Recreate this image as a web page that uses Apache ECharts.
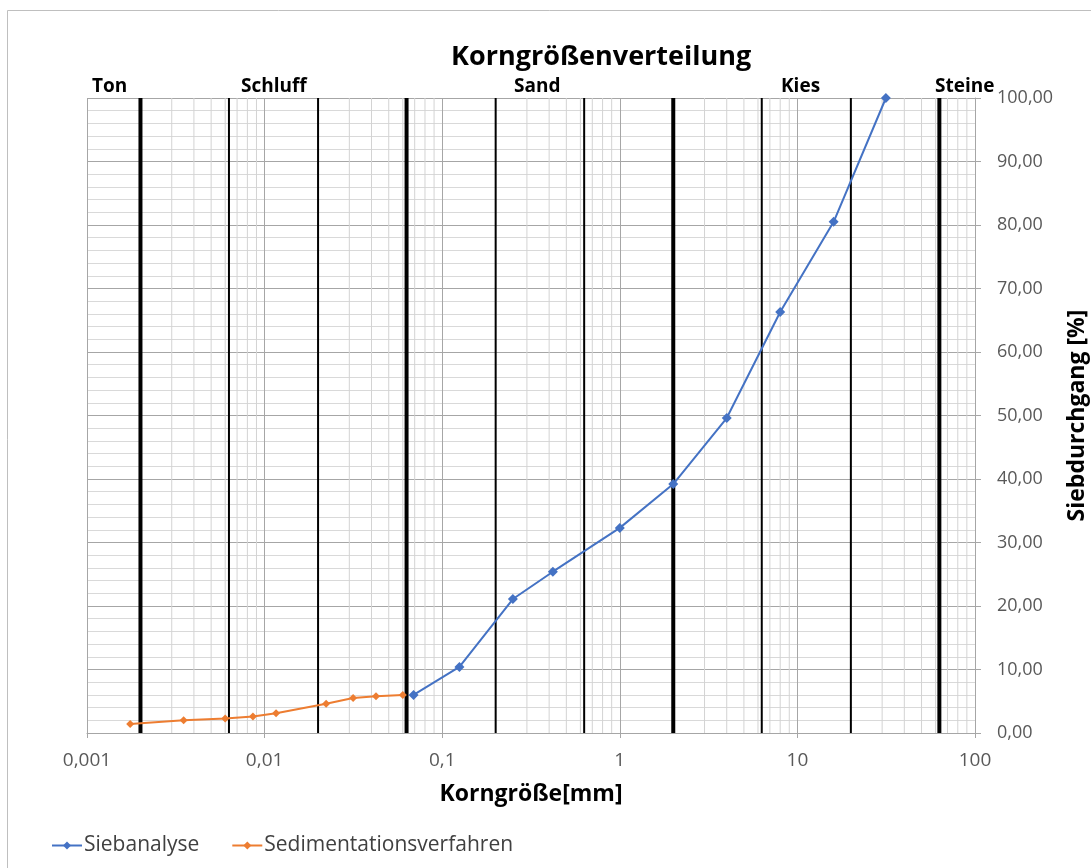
<!DOCTYPE html>
<html>
<head>
<meta charset="utf-8">
<script src="https://cdn.jsdelivr.net/npm/echarts@6/dist/echarts.min.js"></script>
<style>
    html, body { margin: 0; padding: 0; background: #fff; }
    #main { width: 1091px; height: 868px; }
</style>
</head>
<body>
<div id="main"></div>
<script>
// Siebanalyse: Korngröße [mm] / Durchgang [%]
var siebD = [0.069, 0.125, 0.25, 0.42, 1, 2, 4, 8, 16, 31.5];
var siebP = [6.0, 10.4, 21.1, 25.4, 32.3, 39.2, 49.6, 66.3, 80.5, 100.0];

// Sedimentationsverfahren
var sedD = [0.00175, 0.0035, 0.006, 0.0086, 0.0116, 0.0222, 0.0315, 0.0424, 0.060];
var sedP = [1.4, 2.0, 2.3, 2.6, 3.1, 4.6, 5.5, 5.8, 6.0];

// Bodenarten-Grenzen (DIN)
var grenzenDick = [0.002, 0.063, 2, 63];
var grenzenDuenn = [0.0063, 0.02, 0.2, 0.63, 6.3, 20];
var bodenarten = ['Ton', 'Schluff', 'Sand', 'Kies', 'Steine'];
var bodenartenX = [92, 241, 514, 781, 935];

var dekaden = [0.001, 0.01, 0.1, 1, 10];

function paare(xs, ys) {
    var out = [];
    for (var i = 0; i < xs.length; i++) out.push([xs[i], ys[i]]);
    return out;
}

// Nebengitterlinien 2..9 in jeder Dekade
var nebenLinien = [];
dekaden.forEach(function (d) {
    for (var k = 2; k <= 9; k++) {
        nebenLinien.push([+(d * k).toPrecision(6), 1]);
    }
});

var grenzLinien = grenzenDuenn.map(function (v) { return [v, 2]; })
    .concat(grenzenDick.map(function (v) { return [v, 4]; }));

// senkrechte Linie über die ganze Höhe, Breite aus value(1)
function senkrecht(farbe) {
    return function (params, api) {
        var x = api.value(0);
        var p1 = api.coord([x, 0]);
        var p2 = api.coord([x, 100]);
        return {
            type: 'line',
            shape: { x1: p1[0], y1: p1[1], x2: p2[0], y2: p2[1] },
            style: { stroke: farbe, lineWidth: api.value(1) }
        };
    };
}

function komma(v, stellen) {
    return v.toFixed(stellen).replace('.', ',');
}

var chart = echarts.init(document.getElementById('main'));

var option = {
    backgroundColor: '#fff',
    animation: false,
    textStyle: { fontFamily: 'Open Sans' },
    title: {
        text: 'Korngrößenverteilung',
        left: 446,
        top: 39,
        textStyle: { fontFamily: 'Open Sans', fontWeight: 'bold', fontSize: 27, color: '#000' }
    },
    legend: {
        data: ['Siebanalyse', 'Sedimentationsverfahren'],
        left: 46,
        top: 830,
        itemWidth: 30,
        itemHeight: 10,
        itemGap: 32,
        textStyle: { fontSize: 21, color: '#404040', fontFamily: 'Open Sans', padding: [0, 0, 0, -3] }
    },
    grid: { left: 87, right: 116, top: 98, bottom: 135, outerBoundsMode: 'none' },
    xAxis: {
        type: 'log',
        logBase: 10,
        min: 0.001,
        max: 100,
        name: 'Korngröße[mm]',
        nameLocation: 'middle',
        nameGap: 50,
        nameTextStyle: { fontWeight: 'bold', fontSize: 23, color: '#000', fontFamily: 'Open Sans' },
        axisLine: { lineStyle: { color: '#a6a6a6' } },
        axisTick: { show: true, length: 5, lineStyle: { color: '#a6a6a6' } },
        axisLabel: {
            fontSize: 19, color: '#595959', margin: 18,
            formatter: function (v) { return String(+v.toPrecision(6)).replace('.', ','); }
        },
        splitLine: { show: true, lineStyle: { color: '#a6a6a6', width: 1 } }
    },
    yAxis: {
        type: 'value',
        position: 'right',
        min: 0,
        max: 100,
        interval: 10,
        name: 'Siebdurchgang [%]',
        nameLocation: 'middle',
        nameGap: 91,
        nameRotate: 90,
        nameTextStyle: { fontWeight: 'bold', fontSize: 23, color: '#000', fontFamily: 'Open Sans' },
        axisLine: { show: true, lineStyle: { color: '#a6a6a6' } },
        axisTick: { show: true, length: 6, lineStyle: { color: '#a6a6a6' } },
        axisLabel: {
            fontSize: 18, color: '#595959', margin: 22,
            formatter: function (v) { return komma(v, 2); }
        },
        splitLine: { show: true, lineStyle: { color: '#a6a6a6', width: 1 } },
        minorTick: { show: false, splitNumber: 5 },
        minorSplitLine: { show: true, lineStyle: { color: '#d9d9d9', width: 1 } }
    },
    graphic: [
        {
            type: 'rect',
            shape: { x: 7.5, y: 10.5, width: 1200, height: 900 },
            style: { fill: 'none', stroke: '#bfbfbf', lineWidth: 1 },
            silent: true
        }
    ].concat(bodenarten.map(function (t, i) {
        return {
            type: 'text',
            left: bodenartenX[i],
            top: 77,
            z: 10,
            style: { text: t, font: 'bold 19px "Open Sans"', fill: '#000' }
        };
    })),
    series: [
        {
            name: 'Gitter',
            type: 'custom',
            z: 1,
            silent: true,
            clip: true,
            renderItem: senkrecht('#d3d3d3'),
            data: nebenLinien
        },
        {
            name: 'Grenzen',
            type: 'custom',
            z: 2,
            silent: true,
            clip: true,
            renderItem: senkrecht('#000'),
            data: grenzLinien
        },
        {
            name: 'Siebanalyse',
            type: 'line',
            z: 5,
            data: paare(siebD, siebP),
            symbol: 'diamond',
            symbolSize: 10,
            itemStyle: { color: '#4472c4' },
            lineStyle: { color: '#4472c4', width: 2 }
        },
        {
            name: 'Sedimentationsverfahren',
            type: 'line',
            z: 5,
            data: paare(sedD, sedP),
            symbol: 'diamond',
            symbolSize: 8,
            itemStyle: { color: '#ed7d31' },
            lineStyle: { color: '#ed7d31', width: 2 }
        }
    ]
};

chart.setOption(option);
window.onresize = chart.resize;
</script>
</body>
</html>
